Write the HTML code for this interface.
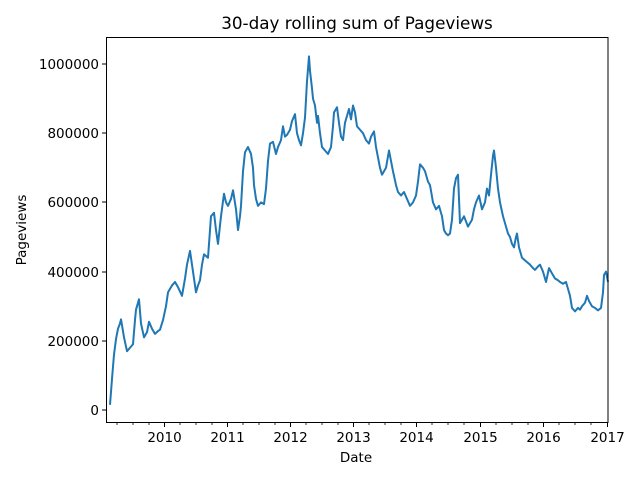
<!DOCTYPE html>
<html><head><meta charset="utf-8"><style>
body{margin:0;background:#fff}
svg{display:block;font-family:"DejaVu Sans","Liberation Sans",sans-serif}
</style></head><body>
<svg width="640" height="480" viewBox="0 0 640 480">
<rect width="640" height="480" fill="#fff"/>
<text x="357" y="29" font-size="16.8" text-anchor="middle">30-day rolling sum of Pageviews</text>
<g transform="translate(0,410) scale(1,-0.346)">
<polyline vector-effect="non-scaling-stroke" fill="none" stroke="#1f77b4" stroke-width="2" stroke-linejoin="round" points="110,15 112,90 114,160 116,205 118,235 120,250 121,262 122,245 124,210 127,170 130,180 133,190 135,260 136,290 139,320 141,250 144,210 147,225 149,255 152,235 155,220 158,228 160,232 163,260 166,300 168,340 170,350 172,360 175,370 178,355 182,330 185,380 187,420 190,460 193,400 196,340 198,360 200,375 202,420 204,450 206,445 208,440 210,520 211,560 214,570 216,520 218,480 221,560 224,625 226,600 228,590 231,610 233,635 236,580 238,520 240,560 241,590 243,690 245,745 248,760 251,740 253,700 254,650 256,610 258,590 261,600 264,595 266,640 268,720 270,770 273,775 276,740 278,760 281,780 283,820 285,790 287,795 290,810 292,835 295,855 297,800 299,780 301,765 303,800 305,845 307,950 309,1022 310,980 312,930 313,900 315,880 317,830 318,850 320,800 322,760 325,750 328,740 331,760 333,820 334,860 337,875 339,830 341,790 343,780 345,830 347,850 349,870 351,840 353,880 355,860 357,820 360,810 363,800 366,780 369,770 371,790 374,805 376,760 378,730 380,700 382,680 384,690 386,700 389,750 391,720 393,690 396,650 398,630 401,620 404,630 407,610 410,590 413,600 416,620 418,660 420,710 423,700 425,690 428,660 430,650 433,600 436,580 439,590 442,560 444,520 446,510 448,505 450,510 452,550 454,640 456,670 458,680 460,540 462,550 464,560 466,545 468,530 470,540 472,550 474,580 476,600 479,620 482,580 485,600 487,640 489,620 491,680 493,735 494,750 496,700 498,640 500,600 503,560 506,530 508,510 510,500 512,480 514,470 516,500 517,510 519,470 522,440 526,430 530,420 533,410 535,405 538,415 540,420 543,400 546,370 549,410 552,395 555,380 558,375 560,370 563,365 566,370 568,350 570,330 572,295 575,285 578,295 580,290 582,300 585,310 587,330 589,315 592,300 595,295 598,288 601,295 603,340 604,390 606,400 608,370"/>
</g>
<rect x="106.5" y="37.5" width="501.5" height="385" fill="none" stroke="#000" stroke-width="1"/>
<g stroke="#000" stroke-width="1">
<line x1="102" y1="410" x2="106.5" y2="410"/>
<line x1="102" y1="341" x2="106.5" y2="341"/>
<line x1="102" y1="272" x2="106.5" y2="272"/>
<line x1="102" y1="202" x2="106.5" y2="202"/>
<line x1="102" y1="133" x2="106.5" y2="133"/>
<line x1="102" y1="64" x2="106.5" y2="64"/>
<line x1="164.5" y1="422.5" x2="164.5" y2="427"/>
<line x1="227.5" y1="422.5" x2="227.5" y2="427"/>
<line x1="290.5" y1="422.5" x2="290.5" y2="427"/>
<line x1="353.5" y1="422.5" x2="353.5" y2="427"/>
<line x1="416.5" y1="422.5" x2="416.5" y2="427"/>
<line x1="480.5" y1="422.5" x2="480.5" y2="427"/>
<line x1="543.5" y1="422.5" x2="543.5" y2="427"/>
<line x1="607.5" y1="422.5" x2="607.5" y2="427"/>
</g>
<g stroke="#000" stroke-width="0.8">
<line x1="117" y1="422.5" x2="117" y2="425"/><line x1="133" y1="422.5" x2="133" y2="425"/><line x1="149" y1="422.5" x2="149" y2="425"/>
<line x1="180" y1="422.5" x2="180" y2="425"/><line x1="196" y1="422.5" x2="196" y2="425"/><line x1="212" y1="422.5" x2="212" y2="425"/>
<line x1="243" y1="422.5" x2="243" y2="425"/><line x1="259" y1="422.5" x2="259" y2="425"/><line x1="275" y1="422.5" x2="275" y2="425"/>
<line x1="306" y1="422.5" x2="306" y2="425"/><line x1="322" y1="422.5" x2="322" y2="425"/><line x1="338" y1="422.5" x2="338" y2="425"/>
<line x1="369" y1="422.5" x2="369" y2="425"/><line x1="385" y1="422.5" x2="385" y2="425"/><line x1="401" y1="422.5" x2="401" y2="425"/>
<line x1="432" y1="422.5" x2="432" y2="425"/><line x1="448" y1="422.5" x2="448" y2="425"/><line x1="464" y1="422.5" x2="464" y2="425"/>
<line x1="496" y1="422.5" x2="496" y2="425"/><line x1="512" y1="422.5" x2="512" y2="425"/><line x1="528" y1="422.5" x2="528" y2="425"/>
<line x1="559" y1="422.5" x2="559" y2="425"/><line x1="575" y1="422.5" x2="575" y2="425"/><line x1="591" y1="422.5" x2="591" y2="425"/>
</g>
<g font-size="13.5" text-anchor="end">
<text x="99" y="415">0</text>
<text x="99" y="346">200000</text>
<text x="99" y="277">400000</text>
<text x="99" y="207">600000</text>
<text x="99" y="138">800000</text>
<text x="99" y="69">1000000</text>
</g>
<g font-size="13.5" text-anchor="middle">
<text x="164.5" y="442">2010</text>
<text x="227.5" y="442">2011</text>
<text x="290.5" y="442">2012</text>
<text x="353.5" y="442">2013</text>
<text x="416.5" y="442">2014</text>
<text x="480.5" y="442">2015</text>
<text x="543.5" y="442">2016</text>
<text x="607.5" y="442">2017</text>
<text x="356" y="462">Date</text>
</g>
<text transform="translate(26,230) rotate(-90)" font-size="13.5" text-anchor="middle">Pageviews</text>
</svg>
</body></html>
